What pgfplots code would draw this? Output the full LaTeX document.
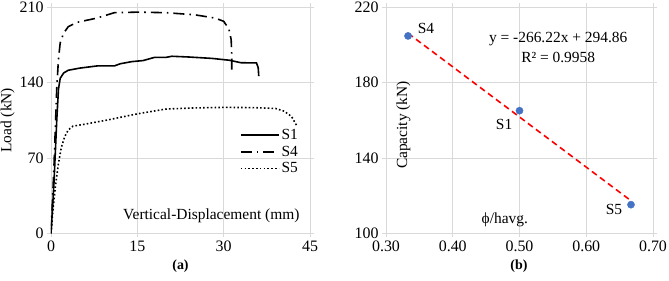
\documentclass[border=0pt]{standalone}
\usepackage{fontspec}
\setmainfont{Liberation Serif}
\usepackage{pgfplots}
\pgfplotsset{compat=1.18}
\definecolor{gridc}{HTML}{D9D9D9}
\definecolor{exblue}{HTML}{4472C4}
\pgfplotsset{myax/.style={
  scale only axis, height=226bp,
  axis line style={gridc}, grid=major, grid style={gridc, line width=0.6pt},
  tick style={gridc, line width=0.6pt}, tick align=outside, major tick length=4bp,
  tick label style={font=\fontsize{16}{16}\selectfont},
  /pgf/number format/assume math mode=true,
  label style={font=\fontsize{15.5}{15.5}\selectfont},
}}
\begin{document}
\begin{tikzpicture}
\useasboundingbox (-51bp,-47.7bp) rectangle (618bp,233.3bp);
\begin{axis}[myax, at={(0bp,0bp)}, anchor=south west, width=259bp,
  xmin=0, xmax=45, ymin=0, ymax=210,
  xtick={0,15,30,45}, ytick={0,70,140,210},
  ylabel={Load (kN)}, ylabel style={yshift=-2bp},
  legend style={draw=none, fill=none, at={(0.962,0.47)}, anchor=north east, font=\fontsize{15.5}{15.5}\selectfont, row sep=1bp, legend cell align=left, inner sep=0pt},
  legend image code/.code={\draw[#1, line width=1.6pt] (0bp,0bp) -- (38bp,0bp);},
]
\addplot[black, line width=1.6pt] coordinates {(0,0) (0.5,45) (1.0,105) (1.3,134) (1.6,144) (2.2,149) (3,151.5) (5,153.5) (8,155.5) (11,155.5) (12,157.5) (14,159.5) (16,160.5) (18,163.5) (20,163.5) (21,164.5) (24,163.8) (28,162.5) (31,160.8) (33,158.5) (35.7,158.3) (36,154) (36.1,146)};
\addlegendentry{S1}
\addplot[black, line width=1.6pt, dash pattern=on 11bp off 5bp on 1.6bp off 5bp] coordinates {(0,0) (0.5,60) (1.0,135) (1.3,162) (1.6,177) (2.2,186) (3,192) (4.5,196) (8,200) (11,205) (15,205.5) (20,205) (25,203) (28.5,200) (30,197) (30.9,190) (31.3,180) (31.4,167) (31.4,151)};
\addlegendentry{S4}
\addplot[black, line width=1.6pt, dash pattern=on 1.6bp off 2.2bp] coordinates {(0,0) (0.4,25) (0.8,45) (1.3,65) (1.8,80) (2.4,90) (3,96) (3.8,99.5) (6,101.5) (10,105.5) (15,111) (20,115.5) (25,116.5) (30,117) (35,116.8) (39,116) (40.5,113.5) (41.8,108.5) (42.7,100)};
\addlegendentry{S5}
\node[anchor=south east, font=\fontsize{15.5}{15.5}\selectfont, inner sep=0pt] at (axis cs:43.2,10) {Vertical-Displacement (mm)};
\end{axis}
\node[font=\bfseries\fontsize{14}{14}\selectfont] at (129.5bp,-33bp) {(a)};
\begin{axis}[myax, at={(335bp,0bp)}, anchor=south west, width=267bp,
  xmin=0.3, xmax=0.7, ymin=100, ymax=220,
  xtick={0.3,0.4,0.5,0.6,0.7}, ytick={100,140,180,220},
  xticklabel style={/pgf/number format/.cd, fixed, fixed zerofill, precision=2},
]
\addplot[red, line width=1.6pt, dash pattern=on 6bp off 4bp] coordinates {(0.333,206.2) (0.667,117.3)};
\addplot[only marks, mark=*, mark size=3.6bp, exblue, mark options={draw=exblue, fill=exblue}] coordinates {(0.333,204.8) (0.5,165.1) (0.667,115.2)};
\node[font=\fontsize{15.5}{15.5}\selectfont] at (axis cs:0.36,208.5) {S4};
\node[font=\fontsize{15.5}{15.5}\selectfont] at (axis cs:0.477,158) {S1};
\node[font=\fontsize{15.5}{15.5}\selectfont] at (axis cs:0.6416,112.4) {S5};
\node[font=\fontsize{15.5}{15.5}\selectfont, inner sep=0pt] at (axis cs:0.558,203.2) {y = -266.22x + 294.86};
\node[font=\fontsize{15.5}{15.5}\selectfont, inner sep=0pt] at (axis cs:0.558,193.6) {R² = 0.9958};
\node[font=\fontsize{15.5}{15.5}\selectfont] at (axis cs:0.478,107) {ϕ/havg.};
\node[font=\fontsize{15.5}{15.5}\selectfont, rotate=90] at (axis cs:0.326,157.5) {Capacity (kN)};
\end{axis}
\node[font=\bfseries\fontsize{14}{14}\selectfont] at (468bp,-33bp) {(b)};
\end{tikzpicture}
\end{document}
